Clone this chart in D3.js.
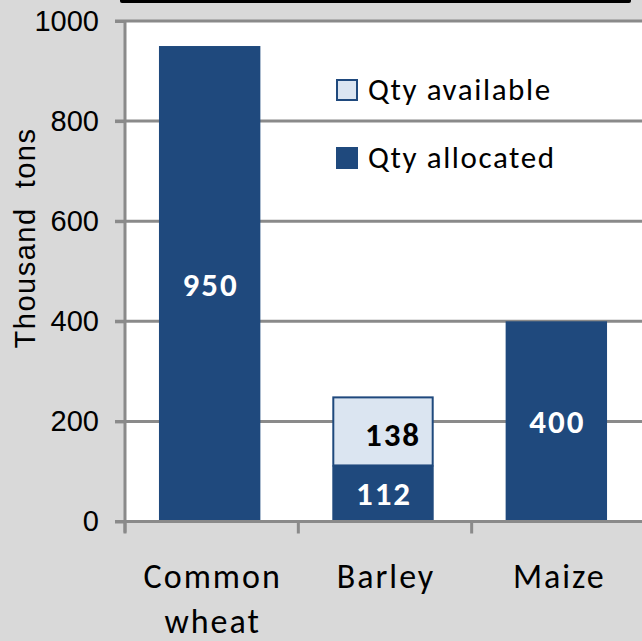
<!DOCTYPE html>
<html>
<head>
<meta charset="utf-8">
<script src="https://cdn.jsdelivr.net/npm/d3@7"></script>
<style>
  html, body { margin: 0; padding: 0; background: #d9d9d9; }
  svg { display: block; }
</style>
</head>
<body>
<div id="chart"></div>
<script>
// Cereal quantities, thousand tons
const categories = ["Common wheat", "Barley", "Maize"];
const categoryLines = [["Common", "wheat"], ["Barley"], ["Maize"]];
const allocated = [950, 112, 400];
const available = [0, 138, 0];
const yTicks = [0, 200, 400, 600, 800, 1000];
const legendLabels = ["Qty available", "Qty allocated"];

const W = 642, H = 641;
const dark = "#1f497d", light = "#dbe5f1", grid = "#8a8a8a";
const calibriLike = "Carlito, Calibri, Lato, sans-serif";
const arialLike = "'Liberation Sans', Arial, sans-serif";

const svg = d3.select("#chart").append("svg")
  .attr("width", W).attr("height", H);

svg.append("rect").attr("width", W).attr("height", H).attr("fill", "#d9d9d9");

// frame edge of the panel above
svg.append("rect").attr("x", 120).attr("y", -6).attr("width", 511).attr("height", 9)
  .attr("rx", 2).attr("fill", "#000");

const plot = { left: 125, right: 645, top: 21, bottom: 521.5 };

const x = d3.scaleBand().domain(categories).range([plot.left, plot.right]).padding(0);
const y = d3.scaleLinear().domain([0, 1000]).range([plot.bottom, plot.top]);

// plot area
svg.append("rect").attr("x", plot.left).attr("y", plot.top)
  .attr("width", W - plot.left).attr("height", plot.bottom - plot.top).attr("fill", "#fff");

// gridlines
svg.append("g").selectAll("line").data(yTicks.filter(d => d > 0)).join("line")
  .attr("x1", 115).attr("x2", W)
  .attr("y1", d => y(d)).attr("y2", d => y(d))
  .attr("stroke", grid).attr("stroke-width", 3);

// bars
const barW = x.bandwidth() * 0.585;
const barX = c => x(c) + (x.bandwidth() - barW) / 2 - 2;

svg.append("g").selectAll("rect").data(categories).join("rect")
  .attr("x", barX)
  .attr("y", (c, i) => y(allocated[i]))
  .attr("width", barW)
  .attr("height", (c, i) => y(0) - y(allocated[i]))
  .attr("fill", dark);

svg.append("g").selectAll("rect").data(categories.filter((c, i) => available[i] > 0)).join("rect")
  .attr("x", c => barX(c) + 1)
  .attr("y", c => { const i = categories.indexOf(c); return y(allocated[i] + available[i]) + 1; })
  .attr("width", barW - 2)
  .attr("height", c => { const i = categories.indexOf(c); return y(allocated[i]) - y(allocated[i] + available[i]) - 1; })
  .attr("fill", light).attr("stroke", dark).attr("stroke-width", 2);

// value labels
const labels = svg.append("g").attr("font-family", calibriLike).attr("font-weight", 900)
  .attr("font-size", 33).attr("letter-spacing", 2).attr("text-anchor", "middle")
  .attr("dominant-baseline", "central");

labels.selectAll("text.alloc").data(categories).join("text").attr("class", "alloc")
  .attr("x", c => barX(c) + barW / 2 + 1)
  .attr("y", (c, i) => y(allocated[i] / 2) + 1)
  .attr("fill", "#fff")
  .text((c, i) => allocated[i]);

labels.selectAll("text.avail").data(categories.filter((c, i) => available[i] > 0)).join("text").attr("class", "avail")
  .attr("x", c => barX(c) + barW / 2 + 10)
  .attr("y", c => { const i = categories.indexOf(c); return y(allocated[i] + available[i] / 2) + 4; })
  .attr("fill", "#000")
  .text(c => available[categories.indexOf(c)]);

// y axis
const yAxis = svg.append("g").attr("transform", `translate(${plot.left},0)`)
  .call(d3.axisLeft(y).tickValues(yTicks).tickSize(10).tickPadding(16).tickFormat(d3.format("d")));
yAxis.select(".domain").attr("stroke", grid).attr("stroke-width", 3)
  .attr("d", `M0,${plot.top - 1}V${plot.bottom + 11}`);
yAxis.selectAll(".tick line").attr("stroke", grid).attr("stroke-width", 3);
yAxis.selectAll(".tick text").attr("font-family", arialLike).attr("font-size", 29).attr("fill", "#000");

// x axis
const xAxis = svg.append("g").attr("transform", `translate(0,${plot.bottom})`);
xAxis.append("line").attr("x1", 115).attr("x2", W).attr("stroke", grid).attr("stroke-width", 3);
xAxis.selectAll("line.tick").data(categories).join("line").attr("class", "tick")
  .attr("x1", c => x(c)).attr("x2", c => x(c)).attr("y1", 0).attr("y2", 12)
  .attr("stroke", grid).attr("stroke-width", 3);

const catText = svg.append("g").attr("font-family", calibriLike).attr("font-size", 34)
  .attr("letter-spacing", 2).attr("text-anchor", "middle").attr("fill", "#000");
categories.forEach((c, i) => {
  const cx = x(c) + x.bandwidth() / 2 + 1;
  const t = catText.append("text").attr("x", cx).attr("y", 588);
  categoryLines[i].forEach((line, j) => {
    t.append("tspan").attr("x", cx).attr("dy", j === 0 ? 0 : 45).text(line);
  });
});

// y axis title
svg.append("text")
  .attr("transform", "translate(35,238) rotate(-90)")
  .attr("text-anchor", "middle")
  .attr("font-family", arialLike).attr("font-size", 29).attr("letter-spacing", 1.5)
  .style("white-space", "pre")
  .text("Thousand  tons");

// legend
const legend = svg.append("g").attr("font-family", calibriLike).attr("font-size", 31)
  .attr("letter-spacing", 1.6);
const legendFill = [light, dark];
legendLabels.forEach((l, i) => {
  const g = legend.append("g").attr("transform", `translate(337,${80 + i * 68})`);
  g.append("rect").attr("width", 20).attr("height", 20)
    .attr("fill", legendFill[i]).attr("stroke", dark).attr("stroke-width", 2);
  g.append("text").attr("x", 31).attr("y", 20).text(l);
});
</script>
</body>
</html>
